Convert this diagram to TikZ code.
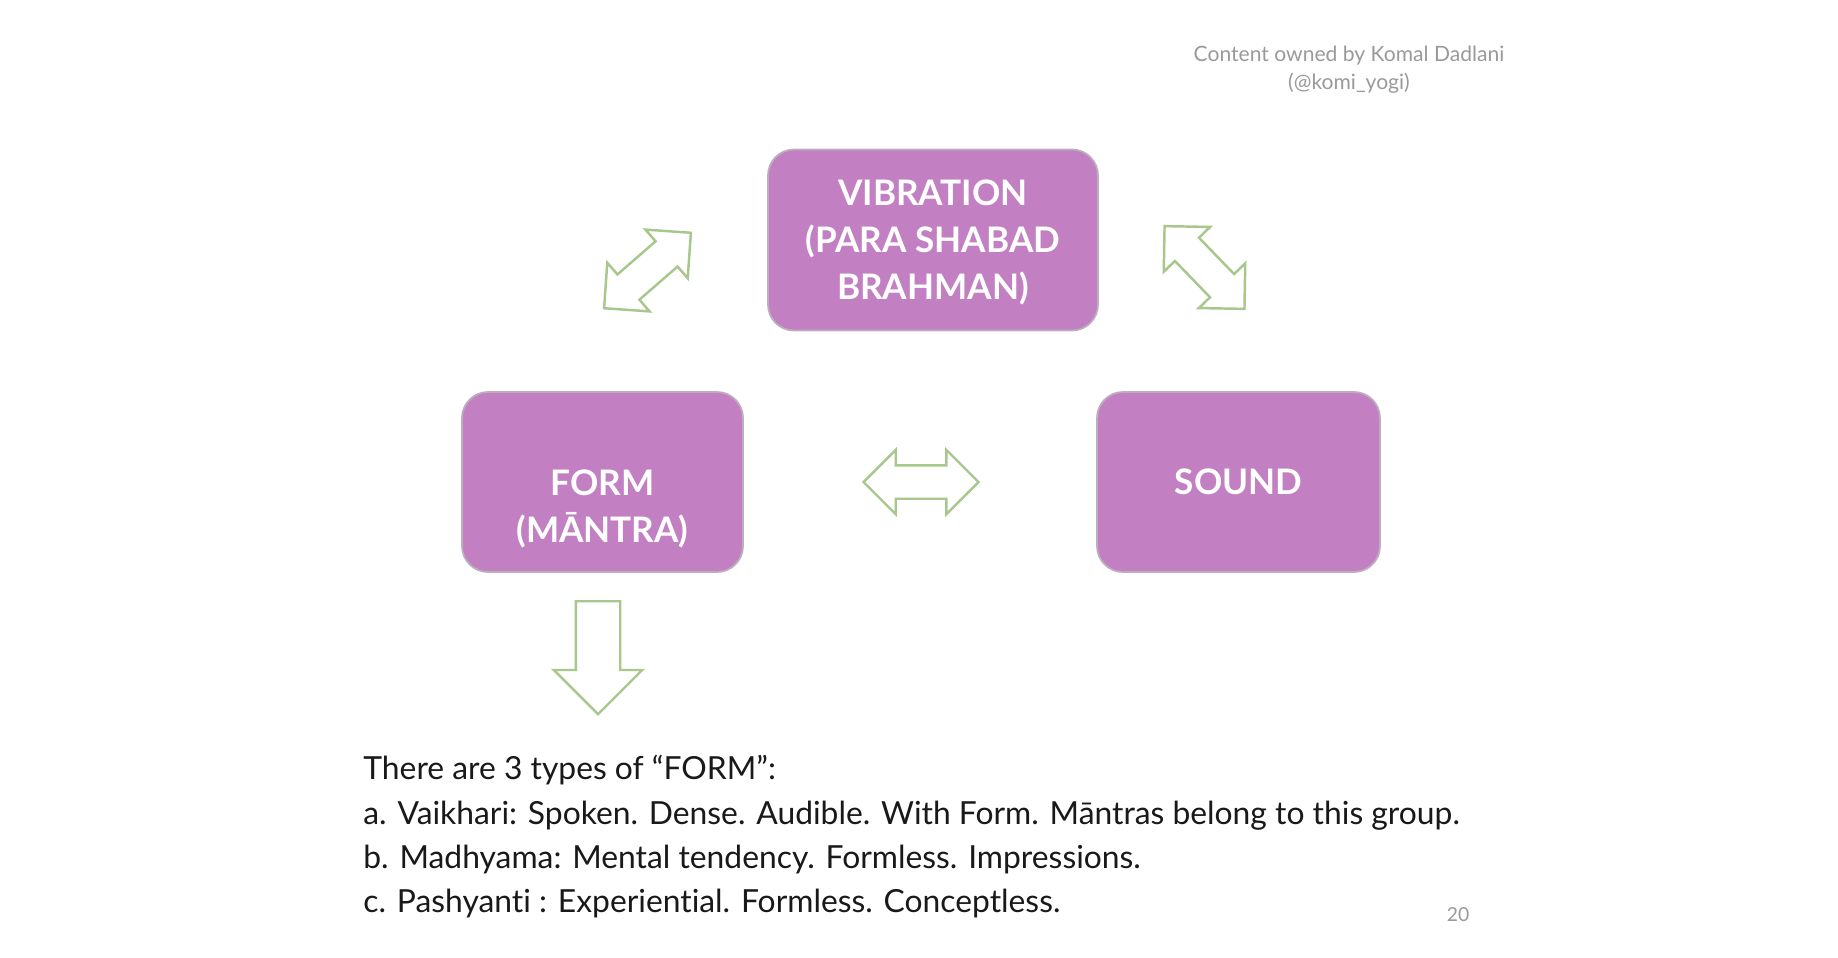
\documentclass[tikz,border=0pt]{standalone}
\usepackage{fontspec}
\setmainfont{Lato}[Ligatures=NoCommon]
\usepackage{xcolor}
\definecolor{Orchid}{HTML}{C280C3}
\definecolor{OrchidEdge}{HTML}{BDAEBE}
\definecolor{Sage}{HTML}{A8C78D}
\definecolor{SlideGray}{HTML}{9A9A9A}
\usetikzlibrary{shapes.arrows, positioning}

\tikzset{
  box/.style={rectangle, rounded corners=0.26cm, draw=OrchidEdge, line width=0.5pt, fill=Orchid,
    text=white, font=\bfseries\fontsize{10}{13.4}\selectfont, align=center, inner sep=0pt},
  twoway/.style={double arrow, draw=Sage, line width=0.7pt, inner sep=0pt, inner ysep=0.155cm,
    minimum height=1.15cm, double arrow head extend=0.155cm},
  oneway/.style={single arrow, draw=Sage, line width=0.7pt, inner sep=0pt, inner ysep=0.21cm,
    minimum height=1.13cm, single arrow head extend=0.22cm},
  credit/.style={text=SlideGray, font=\fontsize{6}{8}\selectfont, align=center}
}

\begin{document}
\begin{tikzpicture}
  \fill[white] (0,0) rectangle (18.38,-9.58);
  \useasboundingbox (0,0) rectangle (18.38,-9.58);

  % the three boxes
  \node (vib) [box, minimum width=3.30cm, minimum height=1.81cm] at (9.33,-2.40) {};
  \node (vibtext) [text=white, font=\bfseries\fontsize{10}{13.4}\selectfont, align=center]
    at ([yshift=-0.025cm]vib.center) {VIBRATION\\(PARA SHABAD\\BRAHMAN)};
  \node (form) [box, minimum width=2.81cm, minimum height=1.80cm] at (6.025,-4.82) {};
  \node (formtext) [text=white, font=\bfseries\fontsize{10}{13.4}\selectfont, align=center]
    at ([yshift=-0.265cm]form.center) {FORM\\(MĀNTRA)};
  \node (sound) [box, minimum width=2.83cm, minimum height=1.80cm] at (12.385,-4.82) {SOUND};

  % block arrows between them
  \node (leftup) [twoway, rotate=41] at (6.475,-2.705) {};
  \node (rightup) [twoway, rotate=-46] at (12.045,-2.675) {};
  \node (across) [twoway] at (9.21,-4.82) {};
  \node (down) [oneway, rotate=-90, anchor=tail] at (5.98,-6.00) {};

  % the note under the arrow
  \node (types) [anchor=north west, align=left, text=black!90, font=\fontsize{9.05}{12.6}\selectfont]
    at (3.51,-7.43) {There are 3 types of “FORM”:\\
    a. Vaikhari: Spoken. Dense. Audible. With Form. Māntras belong to this group.\\
    b. Madhyama: Mental tendency. Formless. Impressions.\\
    c. Pashyanti : Experiential. Formless. Conceptless.};

  \node (owner) [credit] at (13.49,-0.70) {Content owned by Komal Dadlani\\(@komi\_yogi)};
  \node (page) [text=SlideGray, font=\fontsize{5.5}{6}\selectfont] at (14.58,-9.15) {20};
\end{tikzpicture}
\end{document}
